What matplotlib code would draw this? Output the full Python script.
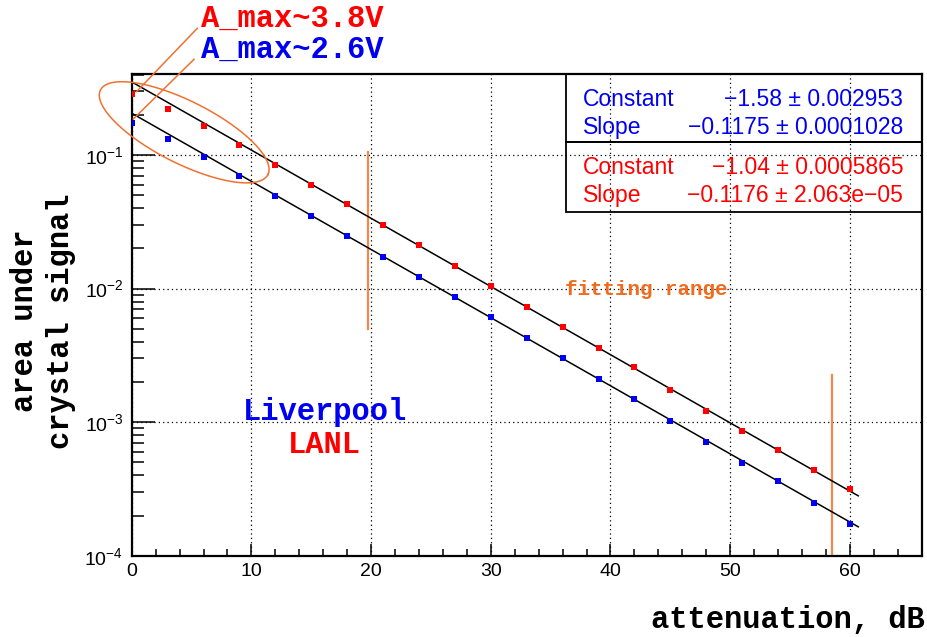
import numpy as np
import matplotlib
matplotlib.use('Agg')
import matplotlib.pyplot as plt
from matplotlib.ticker import LogLocator, MultipleLocator, NullFormatter

plt.rcParams['font.family'] = ['Liberation Sans', 'DejaVu Sans']
plt.rcParams['mathtext.fontset'] = 'custom'
plt.rcParams['mathtext.rm'] = 'Liberation Sans'
plt.rcParams['mathtext.it'] = 'Liberation Sans:italic'

# attenuation steps, dB
atten = [0, 3, 6, 9, 12, 15, 18, 21, 24, 27, 30, 33, 36, 39, 42, 45, 48, 51, 54, 57, 60]
# LANL (red), A_max ~ 3.8V
lanl = [0.288, 0.221, 0.164, 0.1188, 0.0837, 0.0593, 0.043, 0.0299, 0.0211, 0.0148,
        0.01043, 0.00734, 0.00514, 0.00362, 0.00258, 0.00175, 0.00122, 0.000857,
        0.000622, 0.000435, 0.000318]
# Liverpool (blue), A_max ~ 2.6V
liv = [0.1746, 0.1318, 0.0966, 0.0697, 0.0493, 0.0349, 0.0247, 0.0173, 0.01225, 0.00863,
       0.00611, 0.00427, 0.00302, 0.00212, 0.0015, 0.001026, 0.000715, 0.000491,
       0.000362, 0.000249, 0.000174]

# expo fit results: exp(Constant + Slope*x)
liv_const, liv_slope = -1.58, -0.1175
lanl_const, lanl_slope = -1.04, -0.1176
liv_stats = [('Constant', '\u22121.58 \u00b1 0.002953'), ('Slope', '\u22120.1175 \u00b1 0.0001028')]
lanl_stats = [('Constant', '\u22121.04 \u00b1 0.0005865'), ('Slope', '\u22120.1176 \u00b1 2.063e\u221205')]

# fitting range markers
range_x = [19.7, 58.5]
range_ylo = [0.00497, 1.03e-4]
range_yhi = [0.106, 0.00224]

W, H = 927, 637
fig = plt.figure(figsize=(W / 100, H / 100), dpi=100)
ax_l, ax_r, ax_t, ax_b = 131.7, 921.7, 74.3, 555.7
ax = fig.add_axes([ax_l / W, 1 - ax_b / H, (ax_r - ax_l) / W, (ax_b - ax_t) / H])

def px(x, y):
    return x / W, 1 - y / H

RED = '#ff0000'
BLUE = '#0000f0'
ORANGE = '#f07030'

xf = np.linspace(0, 60.7, 200)
ax.plot(xf, np.exp(lanl_const + lanl_slope * xf), color='black', lw=1.1, zorder=3)
ax.plot(xf, np.exp(liv_const + liv_slope * xf), color='black', lw=1.1, zorder=3)
ax.plot(atten, lanl, 's', color=RED, ms=4.5, mew=0, zorder=4)
ax.plot(atten, liv, 's', color=BLUE, ms=4.5, mew=0, zorder=4)

for xr, ylo, yhi in zip(range_x, range_ylo, range_yhi):
    ax.plot([xr, xr], [ylo, yhi], color='#f4884a', lw=1.6, zorder=2)

ax.set_yscale('log')
ax.set_xlim(0, 66.0)
ax.set_ylim(1e-4, 0.403)
ax.xaxis.set_major_locator(MultipleLocator(10))
ax.xaxis.set_minor_locator(MultipleLocator(2))
ax.yaxis.set_major_locator(LogLocator(base=10, numticks=10))
ax.yaxis.set_minor_locator(LogLocator(base=10, subs=np.arange(2, 10), numticks=20))
ax.yaxis.set_minor_formatter(NullFormatter())
ax.grid(True, which='major', color='black', linestyle=(0, (1, 2.5)), lw=0.9)
ax.tick_params(axis='both', which='both', direction='in', top=False, right=False,
               labelsize=14, width=1.1, color='black')
ax.tick_params(axis='x', which='major', length=8.5, pad=5.5)
ax.tick_params(axis='x', which='minor', length=5)
ax.tick_params(axis='y', which='major', length=16.5, pad=6)
ax.tick_params(axis='y', which='minor', length=8.5)
for s in ax.spines.values():
    s.set_linewidth(1.6)

# ellipse around the first points (drawn in pixel space, mapped to axes fraction)
t = np.linspace(0, 2 * np.pi, 300)
cx, cy, a, b, ang = 184.2, 132.3, 93.8, 31.1, np.radians(26.8)
ex = cx + a * np.cos(t) * np.cos(ang) - b * np.sin(t) * np.sin(ang)
ey = cy + a * np.cos(t) * np.sin(ang) + b * np.sin(t) * np.cos(ang)
ax.plot((ex - ax_l) / (ax_r - ax_l), (ax_b - ey) / (ax_b - ax_t), color=ORANGE, lw=1.1,
        transform=ax.transAxes, clip_on=False, zorder=5)

# pointer lines and labels
mono = 'Liberation Mono'
fig.add_artist(plt.Line2D(*zip(px(197.3, 28.3), px(136.7, 91.5)), color=ORANGE, lw=1.1))
fig.add_artist(plt.Line2D(*zip(px(194, 59.3), px(133.3, 119)), color=ORANGE, lw=1.1))
fig.text(*px(201, 18.5), 'A_max~3.8V', color=RED, family=mono, weight='bold', fontsize=22,
         ha='left', va='center')
fig.text(*px(201, 50), 'A_max~2.6V', color=BLUE, family=mono, weight='bold', fontsize=22,
         ha='left', va='center')
fig.text(*px(325, 411.7), 'Liverpool', color=BLUE, family=mono, weight='bold', fontsize=22,
         ha='center', va='center')
fig.text(*px(324, 445), 'LANL', color=RED, family=mono, weight='bold', fontsize=22,
         ha='center', va='center')
fig.text(*px(646.7, 289.3), 'fitting range', color='#f26b1d', family=mono, weight='bold',
         fontsize=15, ha='center', va='center')
fig.text(*px(925, 620), 'attenuation, dB', family=mono, weight='bold', fontsize=22,
         ha='right', va='center')
fig.text(*px(43, 321), 'area under\ncrystal signal', family=mono, weight='bold', fontsize=22,
         ha='center', va='center', rotation=90, multialignment='center', linespacing=1.3)

# stat boxes
for (top, bot), stats, col in [((74, 142.3), liv_stats, BLUE), ((142.3, 212.3), lanl_stats, RED)]:
    x0, y0 = px(566, bot)
    x1, y1 = px(921.7, top)
    fig.add_artist(plt.Rectangle((x0, y0), x1 - x0, y1 - y0, fill=False, ec='black', lw=1.3,
                                 transform=fig.transFigure))
    for i, (name, val) in enumerate(stats):
        yc = top + 25.3 + i * 27.8
        fig.text(*px(583.3, yc), name, color=col, fontsize=16.5, ha='left', va='center')
        fig.text(*px(903.3, yc), val, color=col, fontsize=16.5, ha='right', va='center')

fig.savefig('out.png', dpi=100)
